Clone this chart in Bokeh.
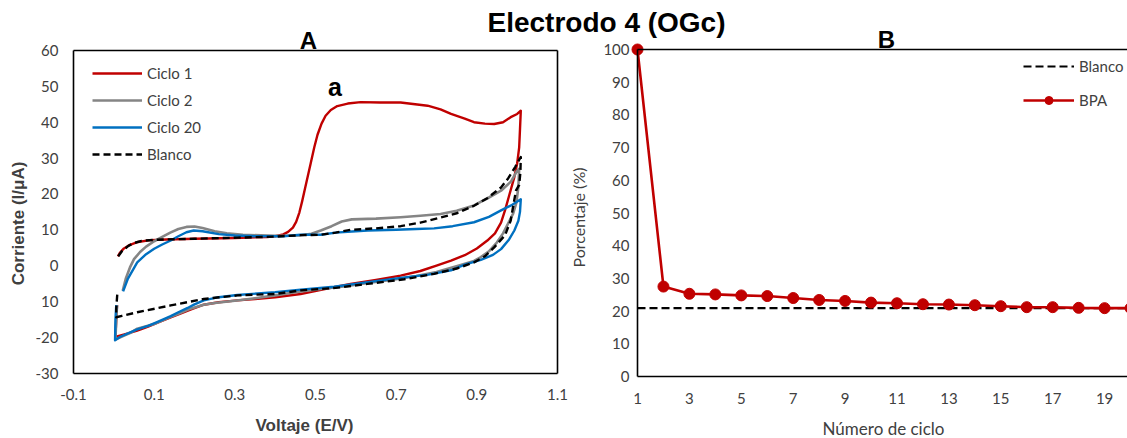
from math import pi
from bokeh.plotting import figure
from bokeh.models import (LinearAxis, Range1d, FixedTicker, Legend, LegendItem, Label)
from bokeh.embed import file_html
from bokeh.resources import INLINE

# ---------------- data: panel A (cyclic voltammograms) ----------------
c1_e = [0.010, 0.015, 0.025, 0.040, 0.060, 0.090, 0.130, 0.200, 0.300, 0.380, 0.400, 0.420, 0.432, 0.444,
        0.452, 0.460, 0.467, 0.474, 0.481, 0.488, 0.497, 0.505, 0.515, 0.525, 0.538, 0.554, 0.580, 0.612,
        0.660, 0.711, 0.778, 0.810, 0.836, 0.870, 0.893, 0.920, 0.943, 0.965, 0.984, 1.000, 1.009,
        1.007, 1.005, 1.000, 0.993, 0.980, 0.970, 0.960, 0.945, 0.926, 0.900, 0.870, 0.836, 0.800, 0.760,
        0.711, 0.650, 0.587, 0.520, 0.463, 0.400, 0.350, 0.306, 0.260, 0.223, 0.190, 0.165, 0.141, 0.110,
        0.085, 0.058, 0.035, 0.015, 0.004, 0.006, 0.008]
c1_i = [2.6, 3.6, 4.8, 5.8, 6.6, 7.1, 7.3, 7.5, 7.7, 8.0, 8.2, 8.7, 9.4, 10.6,
        12.2, 14.8, 18.0, 21.5, 25.0, 28.5, 33.0, 36.5, 39.6, 41.8, 43.4, 44.5, 45.2, 45.6,
        45.5, 45.5, 44.6, 43.6, 42.3, 41.0, 40.0, 39.6, 39.5, 40.0, 41.4, 42.3, 43.2,
        38.0, 33.0, 28.5, 24.7, 19.5, 15.5, 12.0, 9.0, 7.0, 4.8, 2.9, 1.4, 0.0, -1.5,
        -2.8, -4.0, -5.1, -6.6, -7.9, -8.8, -9.3, -9.7, -10.2, -10.9, -12.3, -13.4, -14.4, -15.8,
        -17.0, -18.1, -18.9, -19.5, -19.9, -15.0, -11.0]

c2_e = [0.022, 0.030, 0.040, 0.050, 0.065, 0.080, 0.100, 0.120, 0.140, 0.160, 0.180, 0.200, 0.220, 0.250,
        0.280, 0.320, 0.400, 0.460, 0.490, 0.513, 0.540, 0.565, 0.590, 0.650, 0.711, 0.760, 0.810, 0.850,
        0.893, 0.930, 0.960, 0.985, 1.000, 1.005,
        1.003, 0.998, 0.990, 0.980, 0.965, 0.950, 0.930, 0.910, 0.893, 0.860, 0.800, 0.750, 0.700, 0.630,
        0.570, 0.513, 0.450, 0.400, 0.350, 0.300, 0.250, 0.223, 0.190, 0.160, 0.141, 0.100, 0.058, 0.040,
        0.020, 0.004, 0.006, 0.008]
c2_i = [-7.0, -3.5, -0.5, 1.8, 3.8, 5.3, 6.8, 8.0, 9.2, 10.2, 10.8, 10.9, 10.5, 9.6,
        9.0, 8.6, 8.3, 8.4, 8.9, 9.8, 11.0, 12.3, 12.9, 13.1, 13.5, 13.9, 14.4, 15.3,
        16.8, 19.0, 20.9, 23.5, 26.5, 27.0,
        22.0, 17.5, 14.5, 12.3, 9.0, 6.5, 4.0, 2.4, 1.3, 0.2, -1.8, -2.9, -3.8, -4.8,
        -5.8, -6.5, -7.4, -8.3, -9.1, -9.8, -10.4, -10.9, -12.0, -13.4, -14.3, -16.3, -17.6, -18.8,
        -19.8, -20.6, -15.0, -11.0]

c20_e = [0.023, 0.035, 0.058, 0.080, 0.100, 0.120, 0.141, 0.160, 0.180, 0.198, 0.220, 0.260, 0.300, 0.350,
         0.420, 0.463, 0.513, 0.550, 0.600, 0.629, 0.700, 0.750, 0.794, 0.840, 0.893, 0.930, 0.960, 0.985,
         1.009,
         1.007, 1.003, 0.993, 0.980, 0.960, 0.940, 0.910, 0.870, 0.836, 0.780, 0.711, 0.630, 0.546, 0.463,
         0.400, 0.306, 0.260, 0.223, 0.200, 0.183, 0.160, 0.141, 0.110, 0.085, 0.058, 0.035, 0.015, 0.003,
         0.004, 0.006]
c20_i = [-7.2, -3.6, 0.9, 3.2, 4.7, 5.9, 7.0, 8.2, 9.3, 9.8, 9.6, 8.8, 8.4, 8.2,
         8.2, 8.6, 8.6, 9.2, 9.6, 9.8, 10.0, 10.2, 10.4, 11.0, 12.1, 13.6, 15.4, 16.8,
         18.5,
         15.0, 12.5, 9.8, 7.3, 4.6, 3.0, 1.6, 0.3, -1.3, -2.5, -3.4, -4.6, -5.9, -6.7,
         -7.4, -8.2, -8.8, -9.7, -10.8, -11.8, -13.0, -14.1, -15.6, -16.8, -17.8, -18.9, -19.9, -20.8,
         -15.0, -11.0]

bl_e = [0.011, 0.020, 0.036, 0.050, 0.069, 0.100, 0.127, 0.200, 0.306, 0.400, 0.463, 0.513, 0.550, 0.587,
        0.650, 0.711, 0.760, 0.810, 0.850, 0.893, 0.926, 0.960, 0.978, 0.995, 1.009,
        1.008, 1.005, 0.997, 0.990, 0.984, 0.970, 0.943, 0.920, 0.893, 0.850, 0.794, 0.720, 0.629, 0.550,
        0.463, 0.400, 0.306, 0.223, 0.141, 0.058, 0.020, 0.006, 0.006, 0.009]
bl_i = [2.6, 4.0, 5.5, 6.3, 6.9, 7.2, 7.3, 7.5, 7.8, 8.1, 8.5, 8.6, 9.2, 10.0,
        10.4, 11.0, 12.0, 13.4, 14.6, 16.7, 18.8, 21.8, 24.4, 27.5, 30.3,
        26.0, 22.5, 20.9, 16.5, 12.6, 8.5, 5.1, 2.6, 0.9, -0.8, -2.3, -3.8, -5.1, -6.2,
        -6.9, -7.9, -8.3, -9.3, -11.1, -13.0, -14.0, -14.4, -12.0, -7.2]

a_yticks = [-30, -20, -10, 0, 10, 20, 30, 40, 50, 60]
a_ytick_labels = ["-30", "-20", "10", "0", "10", "20", "30", "40", "50", "60"]
a_xticks = [-0.1, 0.1, 0.3, 0.5, 0.7, 0.9, 1.1]
a_xtick_labels = ["-0.1", "0.1", "0.3", "0.5", "0.7", "0.9", "1.1"]

# ---------------- data: panel B (percentage vs cycle) ----------------
ciclos = [1, 2, 3, 4, 5, 6, 7, 8, 9, 10, 11, 12, 13, 14, 15, 16, 17, 18, 19, 20]
bpa_pct = [100.0, 27.5, 25.3, 25.1, 24.8, 24.6, 24.0, 23.4, 23.1, 22.6,
           22.4, 22.1, 22.0, 21.8, 21.5, 21.2, 21.2, 21.0, 20.9, 20.9]
blanco_ciclos = [1, 20]
blanco_pct = [20.9, 20.9]
b_xticks = [1, 3, 5, 7, 9, 11, 13, 15, 17, 19, 21]
b_yticks = [0, 10, 20, 30, 40, 50, 60, 70, 80, 90, 100]

# ---------------- layout (pixels) ----------------
W, H = 1127, 438
A_L, A_R, A_T, A_B = 73.0, 557.0, 50.0, 372.7     # panel A box: x -0.1..1.1, y 60..-30
B_X1, B_DX, B_Y0, B_Y100 = 637.0, 25.95, 376.0, 49.0

ppx = (A_R - A_L) / 1.2
ppy = (A_B - A_T) / 90.0
x0 = -0.1 - A_L / ppx
y0 = 60 + A_T / ppy          # value at top pixel


def fx(px):
    return x0 + px / ppx


def fy(py):
    return y0 - py / ppy


bppy = (B_Y0 - B_Y100) / 100.0
cyc_range = Range1d(1 - B_X1 / B_DX, 1 + (W - B_X1) / B_DX)
pct_range = Range1d(-(H - B_Y0) / bppy, 100 + B_Y100 / bppy)

p = figure(width=W, height=H, output_backend="svg", toolbar_location=None,
           x_range=Range1d(fx(0), fx(W)), y_range=Range1d(fy(H), fy(0)),
           x_axis_location=None, y_axis_location=None,
           min_border=0, min_border_left=0, min_border_right=0, min_border_top=0, min_border_bottom=0)
p.outline_line_color = None
p.xgrid.visible = False
p.ygrid.visible = False
p.background_fill_color = "white"
p.border_fill_color = "white"
p.extra_x_ranges = {"cyc": cyc_range}
p.extra_y_ranges = {"pct": pct_range}

TICK_FONT = "Lato"
TICK_COLOR = "#404040"


def style_axis(ax, standoff):
    ax.major_tick_out = 0
    ax.major_tick_in = 0
    ax.major_tick_line_color = None
    ax.minor_tick_line_color = None
    ax.axis_line_color = "black"
    ax.axis_line_width = 1.6
    ax.major_label_standoff = standoff
    ax.major_label_text_font = TICK_FONT
    ax.major_label_text_font_size = "15px"
    ax.major_label_text_color = TICK_COLOR


# Panel A axes
axA_left = LinearAxis(fixed_location=-0.1, bounds=(-30, 60), ticker=FixedTicker(ticks=a_yticks),
                      major_label_overrides={t: s for t, s in zip(a_yticks, a_ytick_labels)})
style_axis(axA_left, 15)
p.add_layout(axA_left, "left")
axA_bottom = LinearAxis(fixed_location=-30, bounds=(-0.1, 1.1), ticker=FixedTicker(ticks=a_xticks),
                        major_label_overrides={t: s for t, s in zip(a_xticks, a_xtick_labels)})
style_axis(axA_bottom, 16)
p.add_layout(axA_bottom, "below")
axA_top = LinearAxis(fixed_location=60, bounds=(-0.1, 1.1), ticker=FixedTicker(ticks=[]))
style_axis(axA_top, 0)
p.add_layout(axA_top, "above")
axA_right = LinearAxis(fixed_location=1.1, bounds=(-30, 60), ticker=FixedTicker(ticks=[]))
style_axis(axA_right, 0)
p.add_layout(axA_right, "right")

# Panel B axes
axB_left = LinearAxis(x_range_name="cyc", y_range_name="pct", fixed_location=1, bounds=(0, 100),
                      ticker=FixedTicker(ticks=b_yticks))
style_axis(axB_left, 8)
p.add_layout(axB_left, "left")
axB_bottom = LinearAxis(x_range_name="cyc", y_range_name="pct", fixed_location=0, bounds=(1, 21),
                        ticker=FixedTicker(ticks=b_xticks))
style_axis(axB_bottom, 16)
p.add_layout(axB_bottom, "below")
axB_top = LinearAxis(x_range_name="cyc", y_range_name="pct", fixed_location=100, bounds=(1, 21),
                     ticker=FixedTicker(ticks=[]))
style_axis(axB_top, 0)
p.add_layout(axB_top, "above")

# Panel A curves
RED, GRAY, BLUE = "#C00000", "#858585", "#0070C0"
r1 = p.line(c1_e, c1_i, line_color=RED, line_width=2.4, line_join="round")
r2 = p.line(c2_e, c2_i, line_color=GRAY, line_width=2.6, line_join="round")
r20 = p.line(c20_e, c20_i, line_color=BLUE, line_width=2.4, line_join="round")
rbl = p.line(bl_e, bl_i, line_color="black", line_width=2.4, line_dash="7 4", line_join="round")

# Panel B
rbl_b = p.line(blanco_ciclos, blanco_pct, x_range_name="cyc", y_range_name="pct",
               line_color="black", line_width=2.2, line_dash="8 4")
rbpa_l = p.line(ciclos, bpa_pct, x_range_name="cyc", y_range_name="pct",
                line_color=RED, line_width=2.6)
rbpa_m = p.scatter(ciclos, bpa_pct, x_range_name="cyc", y_range_name="pct",
                   size=11, fill_color=RED, line_color=RED)


def make_legend(items, left_px, top_px, spacing, glyph_w):
    n = len(items)
    height = n * 20 + (n - 1) * spacing
    lg = Legend(items=items, location=(int(round(left_px)), int(round(H - (top_px + height)))),
                padding=0, margin=0, spacing=spacing, glyph_width=glyph_w, glyph_height=20,
                label_height=20, label_standoff=5, border_line_color=None,
                background_fill_alpha=0, label_text_font=TICK_FONT,
                label_text_font_size="15px", label_text_color=TICK_COLOR)
    return lg


legA = make_legend([LegendItem(label="Ciclo 1", renderers=[r1]),
                    LegendItem(label="Ciclo 2", renderers=[r2]),
                    LegendItem(label="Ciclo 20", renderers=[r20]),
                    LegendItem(label="Blanco", renderers=[rbl])], 92, 63, 7, 50)
p.add_layout(legA)
legB = make_legend([LegendItem(label="Blanco", renderers=[rbl_b]),
                    LegendItem(label="BPA", renderers=[rbpa_l, rbpa_m])], 1023, 56, 14, 51)
p.add_layout(legB)


def add_text(text, px, py, size, bold=False, font="Liberation Sans", color="black", angle=0.0):
    lab = Label(x=fx(px), y=fy(py), text=text, text_align="center", text_baseline="middle",
                text_font=font, text_font_size=size, text_color=color,
                text_font_style="bold" if bold else "normal", angle=angle)
    p.add_layout(lab)


add_text("Electrodo 4 (OGc)", 606, 21.5, "28px", bold=True)
add_text("A", 308, 40, "24px", bold=True)
add_text("B", 886, 39, "24px", bold=True)
add_text("a", 334.5, 86, "25px", bold=True)
add_text("Corriente (I/μA)", 18, 223, "17px", bold=True, color="#404040", angle=pi / 2)
add_text("Voltaje (E/V)", 304, 425, "17px", bold=True, color="#404040")
add_text("Porcentaje (%)", 578, 217, "16px", font=TICK_FONT, color="#404040", angle=pi / 2)
add_text("Número de ciclo", 883, 428, "17px", font=TICK_FONT, color="#404040")

open("out.html", "w").write(file_html(p, INLINE))
